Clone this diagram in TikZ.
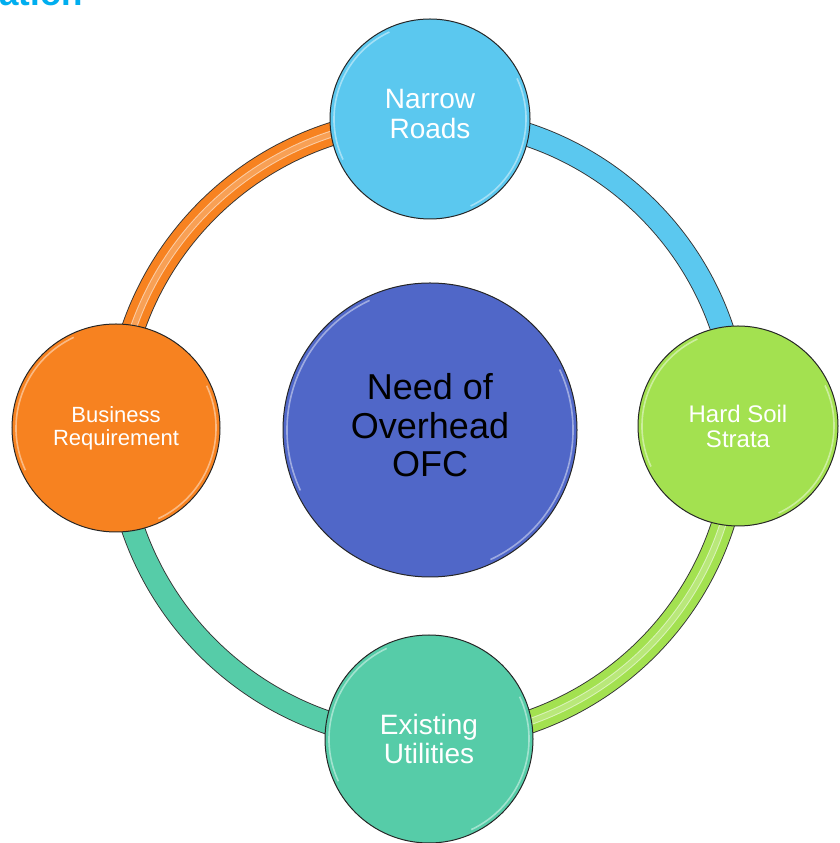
\documentclass[tikz,border=0pt]{standalone}
\usepackage{fontspec}
\setmainfont{Liberation Sans}
\usetikzlibrary{backgrounds}

\definecolor{roadblue}{RGB}{91,200,239}
\definecolor{soilgreen}{RGB}{163,225,80}
\definecolor{bizorange}{RGB}{247,130,32}
\definecolor{utilteal}{RGB}{86,204,168}
\definecolor{ofcblue}{RGB}{80,103,200}
\definecolor{headblue}{RGB}{0,174,239}

\begin{document}
\begin{tikzpicture}[x=1pt, y=1pt,
  bubble/.style={circle, draw=black!85, line width=1pt, fill=#1, text=white, align=center, inner sep=0pt},
  band/.style={draw=black!80, line width=0.9pt, double=#1, double distance=22pt},
  stripe/.style={draw=white, draw opacity=.6, line width=1pt, double=#1, double distance=5pt},
  glint/.style={white, opacity=.45, line width=1.6pt}]
  \useasboundingbox (0,0) rectangle (839,843);

  % heading, cut off by the page edge
  \node[anchor=base west, inner sep=0pt, text=headblue, font=\bfseries\fontsize{35}{35}\selectfont] (head) at (-1,837) {ation};

  % centre and the four causes
  \node[bubble=ofcblue, minimum size=294pt, text=black, text depth=10pt, font=\fontsize{36}{38.5}\selectfont] (need) at (430,413) {Need of\\Overhead\\OFC};
  \node[bubble=roadblue, minimum size=200pt, text depth=10pt, font=\fontsize{28}{30}\selectfont] (roads) at (430,724) {Narrow\\Roads};
  \node[bubble=soilgreen, minimum size=200pt, font=\fontsize{24}{25}\selectfont] (soil) at (738,417) {Hard Soil\\Strata};
  \node[bubble=utilteal, minimum size=208pt, font=\fontsize{28}{29}\selectfont] (util) at (429,104) {Existing\\Utilities};
  \node[bubble=bizorange, minimum size=208pt, font=\fontsize{22}{23}\selectfont] (biz) at (116,415) {Business\\Requirement};

  % glossy rims
  \foreach \n/\r in {need/147, roads/100, soil/100, util/104, biz/104} {
    \draw[glint] ([shift={(115:{\r-4})}]\n.center) arc[start angle=115, end angle=205, radius=\r-4];
    \draw[glint] ([shift={(-65:{\r-4})}]\n.center) arc[start angle=-65, end angle=25, radius=\r-4];
  }

  % ring behind the circles
  \begin{pgfonlayer}{background}
    \draw[band=bizorange] (biz.center) to[bend left=45] (roads.center);
    \draw[band=roadblue] (roads.center) to[bend left=45] (soil.center);
    \draw[band=soilgreen] (soil.center) to[bend left=45] (util.center);
    \draw[band=utilteal] (util.center) to[bend left=45] (biz.center);
    \draw[stripe=bizorange] (biz.center) to[bend left=45] (roads.center);
    \draw[stripe=soilgreen] (soil.center) to[bend left=45] (util.center);
  \end{pgfonlayer}
\end{tikzpicture}
\end{document}
